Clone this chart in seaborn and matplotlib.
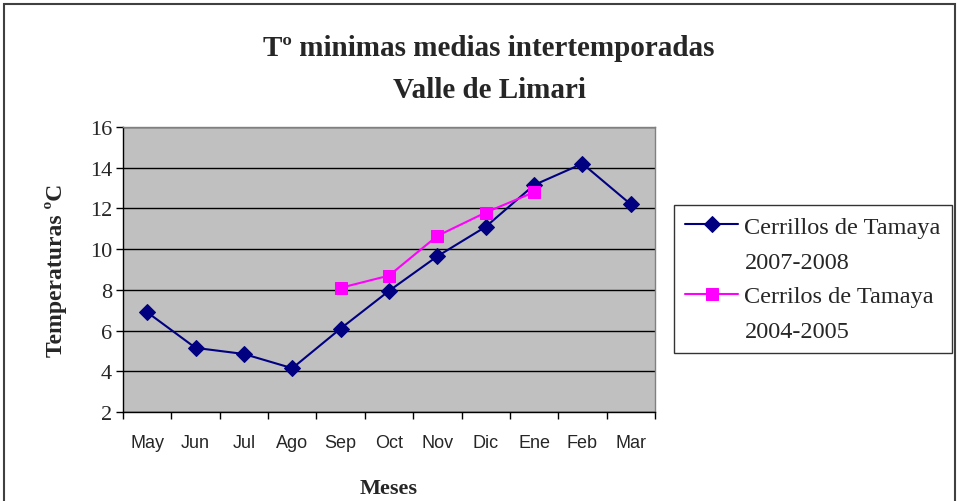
import numpy as np
import pandas as pd
import matplotlib
matplotlib.use("Agg")
import matplotlib.pyplot as plt
import seaborn as sns
from matplotlib.patches import Rectangle
from matplotlib.lines import Line2D

months = ["May", "Jun", "Jul", "Ago", "Sep", "Oct", "Nov", "Dic", "Ene", "Feb", "Mar"]
tamaya_2007 = [6.9, 5.15, 4.85, 4.15, 6.1, 7.95, 9.65, 11.1, 13.15, 14.2, 12.2]
tamaya_2004 = [np.nan, np.nan, np.nan, np.nan, 8.1, 8.7, 10.65, 11.8, 12.8, np.nan, np.nan]
label_2007 = ["Cerrillos de Tamaya", "2007-2008"]
label_2004 = ["Cerrilos de Tamaya", "2004-2005"]
yticks = [2, 4, 6, 8, 10, 12, 14, 16]

sns.set_theme(style="white")
plt.rcParams["font.family"] = ["Liberation Serif", "DejaVu Serif"]

fig = plt.figure(figsize=(9.58, 5.02), dpi=100)
ax = fig.add_axes([123 / 958, 1 - 413 / 502, (655 - 123) / 958, (413 - 128) / 502])
ax.set_facecolor("#C0C0C0")

pos = np.arange(len(months))
df = pd.DataFrame({"pos": pos, "a": tamaya_2007, "b": tamaya_2004})

sns.lineplot(data=df, x="pos", y="a", ax=ax, color="#000080", marker="D",
             markersize=8, markeredgecolor="#000080", linewidth=1.5, label="a")
sns.lineplot(data=df.dropna(), x="pos", y="b", ax=ax, color="#FF00FF", marker="s",
             markersize=8, markeredgecolor="#FF00FF", linewidth=1.5, label="b")

ax.set_xlim(-0.5, len(months) - 0.5)
ax.set_ylim(2, 16)
ax.set_yticks(yticks)
ax.set_yticklabels([str(v) for v in yticks], fontsize=16, family="Liberation Serif")
ax.set_xticks(pos)
ax.set_xticklabels(months, fontsize=13, family="Liberation Sans")
ax.set_xticks(np.arange(-0.5, len(months), 1), minor=True)
ax.tick_params(axis="x", which="major", length=0, pad=16)
ax.tick_params(axis="x", which="minor", length=5, width=1, color="black", direction="out", bottom=True)
ax.tick_params(axis="y", length=5, width=1, color="black", direction="out", left=True, pad=3)

ax.yaxis.grid(True, color="black", linewidth=1)
ax.xaxis.grid(False)
ax.set_axisbelow(True)

for s in ["left", "bottom"]:
    ax.spines[s].set_color("black")
    ax.spines[s].set_linewidth(1)
for s in ["top", "right"]:
    ax.spines[s].set_color("#808080")
    ax.spines[s].set_linewidth(1)

ax.set_xlabel("Meses", fontsize=16, fontweight="bold", labelpad=19)
ax.set_ylabel("Temperaturas ºC", fontsize=17, fontweight="bold", labelpad=16)

fig.text(489 / 958, 1 - 48 / 502, "Tº minimas medias intertemporadas", ha="center", va="center",
         fontsize=21, fontweight="bold")
fig.text(489 / 958, 1 - 91 / 502, "Valle de Limari", ha="center", va="center",
         fontsize=21, fontweight="bold")

handles, _ = ax.get_legend_handles_labels()
blank = Line2D([], [], linestyle="none", marker=None)
leg_handles = [handles[0], blank, handles[1], blank]
leg_labels = [label_2007[0], label_2007[1], label_2004[0], label_2004[1]]
leg = ax.legend(leg_handles, leg_labels, loc="upper left", bbox_to_anchor=(674 / 958, 1 - 206 / 502),
                bbox_transform=fig.transFigure, frameon=True, fancybox=False,
                fontsize=17.5, handlelength=2.2, labelspacing=0.52, borderpad=0.45,
                handletextpad=0.25, borderaxespad=0)
leg.get_frame().set_edgecolor("black")
leg.get_frame().set_linewidth(1)

fig.patches.append(Rectangle((4 / 958, -0.01), 951 / 958, 1 - 5 / 502 + 0.01,
                             transform=fig.transFigure, fill=False,
                             edgecolor="#404040", linewidth=1.5))

fig.savefig("out.png", dpi=100)
